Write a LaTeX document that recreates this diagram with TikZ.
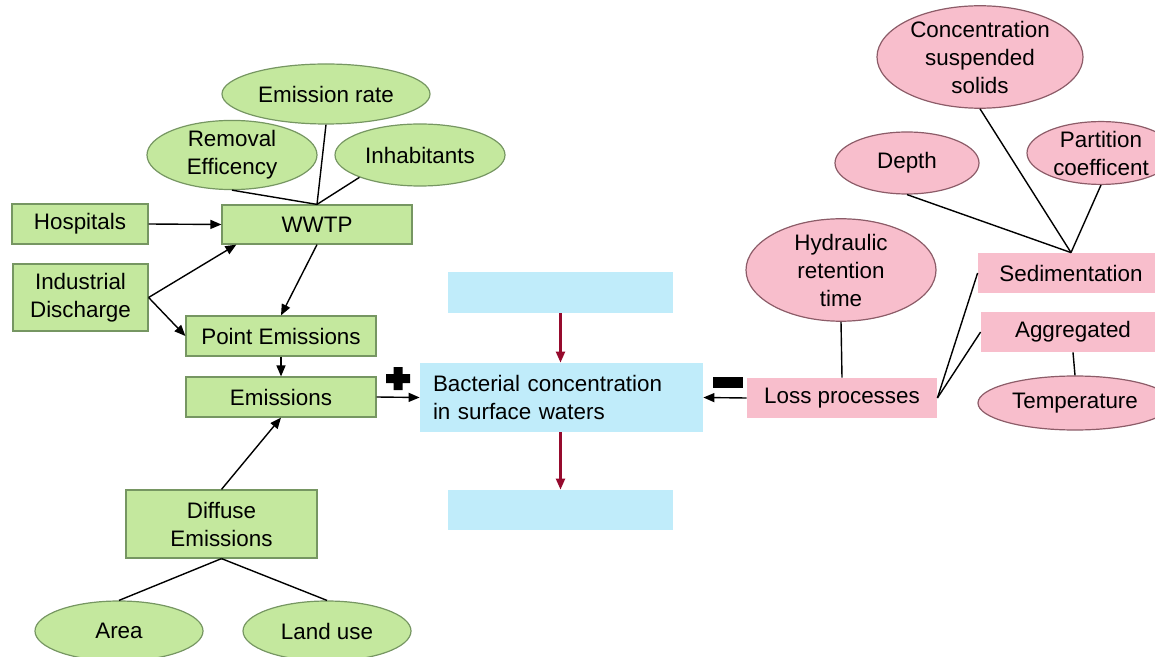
\documentclass[tikz,border=0pt]{standalone}
\usepackage{fontspec}
\setmainfont{Liberation Sans}
\usetikzlibrary{shapes.geometric,arrows.meta}
\definecolor{gfill}{RGB}{196,232,158}
\definecolor{gdraw}{RGB}{118,150,98}
\definecolor{pfill}{RGB}{248,190,204}
\definecolor{pdraw}{RGB}{140,92,104}
\definecolor{bfill}{RGB}{192,236,250}
\definecolor{darkred}{RGB}{150,10,45}
\begin{document}
\begin{tikzpicture}[x=0.5pt,y=-0.5pt,
  every node/.style={font=\fontsize{11.2}{14}\selectfont, align=center, inner sep=0pt},
  grect/.style={draw=gdraw, fill=gfill, line width=0.6pt, rectangle},
  gell/.style={draw=gdraw, fill=gfill, line width=0.6pt, ellipse},
  prect/.style={fill=pfill, rectangle},
  pell/.style={draw=pdraw, fill=pfill, line width=0.6pt, ellipse},
  brect/.style={fill=bfill, rectangle},
  link/.style={line width=0.7pt, black},
  arr/.style={line width=0.7pt, black, -{Triangle[length=5.5pt,width=4.5pt]}},
  rarr/.style={line width=1.1pt, darkred, -{Triangle[length=5.5pt,width=4.5pt]}},
  sign/.style={fill=black, draw=none}
]
\useasboundingbox (0,0) rectangle (1155,657);
% ---- green (left) ----
\node[gell, minimum width=104pt, minimum height=30pt] (emr) at (326,94) {Emission rate};
\node[gell, minimum width=85pt, minimum height=31pt] (rem) at (232,155) {Removal\\Efficency};
\node[gell, minimum width=85pt, minimum height=31pt] (inh) at (420,155) {Inhabitants};
\node[grect, minimum width=68pt, minimum height=20pt] (hosp) at (80,224) {Hospitals};
\node[grect, minimum width=95pt, minimum height=19.5pt] (wwtp) at (317,224.5) {WWTP};
\node[grect, minimum width=67.5pt, minimum height=33.5pt] (ind) at (80.5,297.5) {Industrial\\Discharge};
\node[grect, minimum width=95pt, minimum height=20pt] (point) at (281,336) {Point Emissions};
\node[grect, minimum width=95pt, minimum height=20pt] (emis) at (281,397) {Emissions};
\node[grect, minimum width=95.5pt, minimum height=34pt] (diff) at (221.5,524) {Diffuse\\Emissions};
\node[gell, minimum width=84pt, minimum height=30pt] (area) at (119,631) {Area};
\node[gell, minimum width=84pt, minimum height=30pt] (land) at (327,631) {Land use};
% ---- blue (centre) ----
\node[brect, minimum width=141.5pt, minimum height=34.5pt, text width=128.5pt, align=left] (bact) at (561.5,397.5) {Bacterial concentration\\in surface waters};
\node[brect, minimum width=112.5pt, minimum height=20.5pt] (topb) at (560.5,292.5) {};
\node[brect, minimum width=112.5pt, minimum height=20pt] (botb) at (560.5,510) {};
% ---- pink (right) ----
\node[prect, minimum width=95pt, minimum height=20pt] (loss) at (842,398) {Loss processes};
\node[pell, minimum width=95pt, minimum height=45pt] (hydr) at (841,270) {Hydraulic\\retention\\time};
\node[prect, minimum width=93pt, minimum height=20pt] (sed) at (1071,273) {Sedimentation};
\node[prect, minimum width=92pt, minimum height=20pt] (agg) at (1073,332) {Aggregated};
\node[pell, minimum width=97pt, minimum height=27pt] (temp) at (1075,403) {Temperature};
\node[pell, minimum width=72pt, minimum height=31pt] (depth) at (907,163) {Depth};
\node[pell, minimum width=103pt, minimum height=47pt] (conc) at (980,57) {Concentration\\suspended\\solids};
\node[pell, minimum width=74pt, minimum height=31pt] (part) at (1101,153) {Partition\\coefficent};
% ---- connectors ----
\draw[link] (emr.south) -- (wwtp.north);
\draw[link] (rem.south) -- (wwtp.north);
\draw[link] (inh.south west) -- (wwtp.north);
\draw[arr] (hosp.east) -- (wwtp.west);
\draw[arr] (ind.east) -- (wwtp.194.4);
\draw[arr] (ind.east) -- (point.west);
\draw[arr] (wwtp.south) -- (point.north);
\draw[arr] (point.south) -- (emis.north);
\draw[arr] (diff.north) -- (emis.south);
\draw[link] (diff.south) -- (area.north);
\draw[link] (diff.south) -- (land.north);
\draw[arr] (emis.east) -- (bact.west);
\draw[arr] (loss.west) -- (bact.east);
\draw[rarr] (topb.south) -- (topb.south |- bact.north);
\draw[rarr] (botb.north |- bact.south) -- (botb.north);
\draw[link] (hydr.south) -- (loss.north);
\draw[link] (loss.east) -- (sed.west);
\draw[link] (loss.east) -- (agg.west);
\draw[link] (agg.south) -- (temp.north);
\draw[link] (depth.south) -- (sed.north);
\draw[link] (conc.south) -- (sed.north);
\draw[link] (part.south) -- (sed.north);
% ---- signs ----
\fill[sign] (393.5,367) -- (402.5,367) -- (402.5,374) -- (410,374) -- (410,383) -- (402.5,383) -- (402.5,390) -- (393.5,390) -- (393.5,383) -- (386,383) -- (386,374) -- (393.5,374) -- cycle;
\fill[sign] (713,377) rectangle (743,388);
\end{tikzpicture}
\end{document}
